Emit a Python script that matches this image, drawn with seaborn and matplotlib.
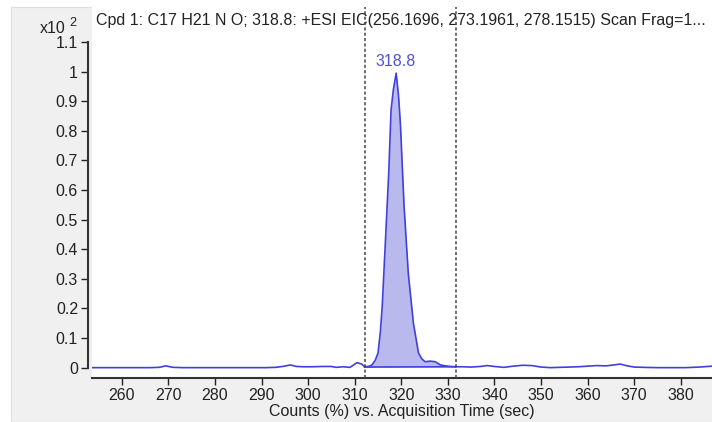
import matplotlib
matplotlib.use("Agg")
import matplotlib.pyplot as plt
from matplotlib.patches import Rectangle
import seaborn as sns

# EIC trace (time in sec, counts in x10^2 %)
time = [253.5, 256, 258, 260, 262, 264, 266, 268, 269.4, 271, 273, 276, 280, 284,
        288, 291, 293, 294.5, 296.2, 297.5, 299, 301, 303, 305, 306, 307.5, 309,
        310.5, 311.5, 312.1, 313, 313.7, 314.4, 315.0, 315.5, 315.9, 316.6, 317.3,
        317.8, 318.3, 318.9, 319.4, 319.8, 320.6, 321.5, 322.6, 323.7, 324.4, 325.1,
        326.2, 327.3, 328.4, 329.5, 330.5, 331.7, 333, 335, 337, 338.4, 340, 342,
        344, 346, 348, 350, 352, 354, 356, 358, 360, 362, 364, 365.5, 367, 368.5,
        370, 372, 375, 378, 381, 384, 386.7]
counts = [0.0, 0.0, 0.0, 0.0, 0.0, 0.0, 0.0, 0.001, 0.006, 0.001, 0.0, 0.0, 0.0, 0.0,
          0.0, 0.0, 0.001, 0.004, 0.009, 0.004, 0.003, 0.003, 0.004, 0.004, 0.001,
          0.003, 0.001, 0.017, 0.012, 0.003, 0.004, 0.009, 0.025, 0.049, 0.12, 0.206,
          0.43, 0.657, 0.87, 0.94, 0.995, 0.92, 0.826, 0.544, 0.319, 0.15, 0.049,
          0.03, 0.02, 0.022, 0.02, 0.009, 0.006, 0.004, 0.003, 0.003, 0.002, 0.004,
          0.007, 0.004, 0.001, 0.005, 0.008, 0.007, 0.002, 0.0, 0.001, 0.002, 0.003,
          0.005, 0.007, 0.006, 0.009, 0.012, 0.006, 0.002, 0.001, 0.0, 0.0, 0.0,
          0.002, 0.005]

peak_rt = 318.8
peak_top = 0.995
integ_start, integ_end = 312.1, 331.7
base_start, base_end = 0.002, 0.003

title = "Cpd 1: C17 H21 N O; 318.8: +ESI EIC(256.1696, 273.1961, 278.1515) Scan Frag=1..."
xlabel = "Counts (%) vs. Acquisition Time (sec)"
xticks = list(range(260, 390, 10))
yticks = [0, 0.1, 0.2, 0.3, 0.4, 0.5, 0.6, 0.7, 0.8, 0.9, 1.0, 1.1]
ytick_labels = ["0", "0.1", "0.2", "0.3", "0.4", "0.5", "0.6", "0.7", "0.8", "0.9", "1", "1.1"]

sns.set_theme(style="ticks")
plt.rcParams['font.family'] = ['Liberation Sans', 'DejaVu Sans']

line_col = "#4040dd"
fill_col = "#b9b9ee"
text_col = "#222222"
fs = 11.5

fig = plt.figure(figsize=(7.12, 4.22), dpi=100)
fig.patch.set_facecolor("white")
fig.patches.append(Rectangle((11 / 712, 0), 1, (422 - 7) / 422, transform=fig.transFigure,
                             facecolor="#f0f0f0", edgecolor="#dddddd", lw=0.8, zorder=-5))

ax = fig.add_axes([92 / 712, (422 - 378.3) / 422, 620 / 712, (378.3 - 7) / 422])
ax.set_facecolor("white")

# integrated area
seg = [(t, c) for t, c in zip(time, counts) if integ_start <= t <= integ_end]
seg_t = [s[0] for s in seg]
seg_c = [s[1] for s in seg]
seg_base = [base_start + (base_end - base_start) * (t - integ_start) / (integ_end - integ_start)
            for t in seg_t]
ax.fill_between(seg_t, seg_base, seg_c, color=fill_col, lw=0, zorder=1)
ax.plot([integ_start, integ_end], [base_start, base_end], color=line_col, lw=1.2, zorder=2)

sns.lineplot(x=time, y=counts, ax=ax, color=line_col, lw=1.2, zorder=3)

for xv in (integ_start, integ_end):
    ax.axvline(xv, color="#444444", ls=(0, (2, 1.5)), lw=1.1, zorder=4)

ax.text(peak_rt, peak_top + 0.015, "318.8", color="#5050dd", ha="center", va="bottom", fontsize=fs)

ax.set_xlim(253.6, 386.7)
ax.set_ylim(-0.036, 1.2186)
ax.set_xticks(xticks)
ax.set_yticks(yticks)
ax.set_yticklabels(ytick_labels)
ax.tick_params(axis="both", labelsize=fs, colors=text_col, length=5, width=1, direction="out", pad=2)
ax.spines["top"].set_visible(False)
ax.spines["right"].set_visible(False)
ax.spines["left"].set_bounds(0, 1.1)
ax.spines["left"].set_position(("outward", 3))
for s in ("left", "bottom"):
    ax.spines[s].set_color("#333333")
    ax.spines[s].set_linewidth(1.5)

ax.set_xlabel(xlabel, fontsize=fs, color=text_col, labelpad=1)
ax.set_ylabel("")

ax.text(0.0065, (378.3 - 20) / (378.3 - 7), title, transform=ax.transAxes,
        fontsize=fs, color=text_col, ha="left", va="center")
fig.text(40 / 712, (422 - 33) / 422, "x10", fontsize=fs, color=text_col, ha="left", va="baseline")
fig.text(69 / 712, (422 - 26) / 422, "2", fontsize=9, color=text_col, ha="left", va="baseline")

fig.savefig("out.png", dpi=100, facecolor=fig.get_facecolor())
